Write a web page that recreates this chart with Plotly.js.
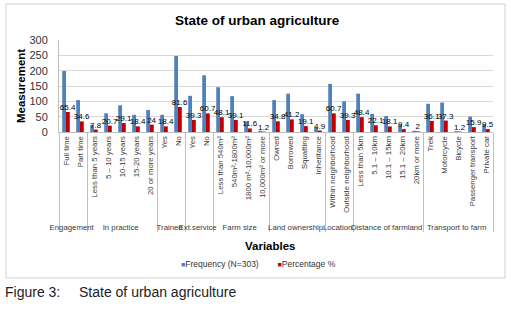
<!DOCTYPE html>
<html>
<head>
<meta charset="utf-8">
<script src="https://cdn.plot.ly/plotly-3.0.1.min.js"></script>
<style>html,body{margin:0;padding:0;background:#fff;}#chart{width:511px;height:316px;}</style>
</head>
<body>
<div id="chart"></div>
<script>
const groups = ["Engagement","Engagement",
  "In practice","In practice","In practice","In practice","In practice",
  "Trained","Trained",
  "Ext.service","Ext.service",
  "Farm size","Farm size","Farm size","Farm size",
  "Land ownership","Land ownership","Land ownership","Land ownership",
  "Location","Location",
  "Distance of farmland","Distance of farmland","Distance of farmland","Distance of farmland","Distance of farmland",
  "Transport to farm","Transport to farm","Transport to farm","Transport to farm","Transport to farm"];
const categories = ["Full time","Part time",
  "Less than 5 years","5 – 10 years","10-15 years","15-20 years","20 or more years",
  "Yes","No",
  "Yes","No",
  "Less than 540m²","540m²-1800m²","1800 m²-10,000m²","10,000m² or more",
  "Owned","Borrowed","Squatting","Inheritance",
  "Within neighborhood","Outside neighborhood",
  "Less than 5km","5.1 – 10km","10.1 – 15km","15.1 – 20km","20km or more",
  "Trek","Motorcycle","Bicycle","Passenger transport","Private car"];
const frequency = [199,104, 23,61,87,56,72, 56,248, 118,185, 146,117,34,4, 104,125,58,14, 157,100, 125,59,52,25,4, 92,96,3,50,25];
const percentage = [65.4,34.6, 7.8,20.7,29.1,18.4,24, 18.4,81.6, 39.3,60.7, 48.1,39.1,11.6,1.2, 34.8,41.2,19.1,4.9, 60.7,39.3, 48.4,22.1,18.1,9.4,2, 36.1,37.3,1.2,15.9,9.5];
const seriesNames = ["Frequency (N=303)", "Percentage %"];
const seriesColors = ["#4F81BD", "#C00000"];

const FONT = "Liberation Sans, Arial, sans-serif";
// plot area geometry (px)
const L = 59, R = 18, T = 40, B = 184, W = 511, H = 316;
const pw = W - L - R, ph = H - T - B;
const px2x = p => (p - L) / pw;
const py2y = p => (H - B - p) / ph;

const traces = [
  {type:"bar", name:seriesNames[0], x:[groups, categories], y:frequency,
   marker:{color:seriesColors[0]}, showlegend:false},
  {type:"bar", name:seriesNames[1], x:[groups, categories], y:percentage,
   marker:{color:seriesColors[1]}, texttemplate:"%{y}", textposition:"outside",
   constraintext:"none", textangle:0,
   textfont:{family:FONT, size:8, color:"#000"}, cliponaxis:false, showlegend:false}
];

const legendText =
  "<span style='color:" + seriesColors[0] + ";font-size:7px'>■</span>" + seriesNames[0] +
  "        " +
  "<span style='color:" + seriesColors[1] + ";font-size:7px'>■</span>" + seriesNames[1];

const layout = {
  width:W, height:H,
  margin:{l:L, r:R, t:T, b:B, pad:0},
  paper_bgcolor:"#fff", plot_bgcolor:"#fff",
  barmode:"group", bargap:0.46, bargroupgap:0,
  showlegend:false,
  font:{family:FONT, color:"#333"},
  title:{text:"State of urban agriculture", font:{family:FONT, size:13.5, color:"#000", weight:"bold"},
    x:0.503, xref:"container", xanchor:"center", y:1-20/H, yref:"container", yanchor:"middle"},
  xaxis:{type:"multicategory", tickangle:-90, tickfont:{family:FONT, size:7.8, color:"#3a3a3a"},
    showline:true, linecolor:"#BFBFBF", linewidth:1, showgrid:false,
    showdividers:true, dividercolor:"#BFBFBF", dividerwidth:1, automargin:false, fixedrange:true},
  yaxis:{range:[0,300], dtick:50, tickfont:{family:FONT, size:11, color:"#333"},
    showgrid:true, gridcolor:"#D9D9D9", gridwidth:1, zeroline:false,
    showline:true, linecolor:"#BFBFBF", ticklabelstandoff:8, automargin:false, fixedrange:true},
  annotations:[
    {text:"<b>Measurement</b>", xref:"paper", yref:"paper", x:px2x(21), y:py2y(86),
     xanchor:"center", yanchor:"middle",
     textangle:-90, showarrow:false, font:{family:FONT, size:11.5, color:"#000"}},
    {text:"<b>Variables</b>", xref:"paper", yref:"paper", x:px2x(270), y:py2y(246),
     xanchor:"center", yanchor:"middle",
     showarrow:false, font:{family:FONT, size:11.5, color:"#000"}},
    {text:legendText, xref:"paper", yref:"paper", x:px2x(258), y:py2y(264),
     xanchor:"center", yanchor:"middle",
     showarrow:false, font:{family:FONT, size:8.5, color:"#333"}},
    {text:"Figure 3:", xref:"paper", yref:"paper", x:px2x(3), y:py2y(292), xanchor:"left", yanchor:"middle",
     showarrow:false, font:{family:FONT, size:14, color:"#222"}},
    {text:"State of urban agriculture", xref:"paper", yref:"paper", x:px2x(77), y:py2y(292), xanchor:"left", yanchor:"middle",
     showarrow:false, font:{family:FONT, size:14, color:"#222"}}
  ],
  shapes:[
    {type:"rect", xref:"paper", yref:"paper", x0:px2x(6), x1:px2x(505), y0:py2y(278), y1:py2y(4),
     line:{color:"#D0D0D0", width:1}, fillcolor:"rgba(0,0,0,0)", layer:"below"}
  ]
};

Plotly.newPlot("chart", traces, layout, {displayModeBar:false, staticPlot:true});
</script>
</body>
</html>
